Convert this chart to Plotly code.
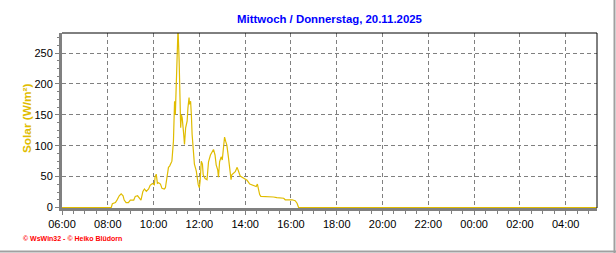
import plotly.graph_objects as go
import pandas as pd

# ---- data ----
day_times = ["06:00", "08:09", "08:12", "08:20", "08:24", "08:30", "08:35", "08:40", "08:43", "08:48",
             "08:54", "08:59", "09:08", "09:12", "09:18", "09:23", "09:27", "09:32", "09:36", "09:41",
             "09:47", "09:51", "09:57", "10:02", "10:04", "10:07", "10:10", "10:13", "10:18", "10:22",
             "10:28", "10:31", "10:35", "10:39", "10:42", "10:44", "10:48", "10:52", "10:55", "10:57",
             "10:59", "11:01", "11:04", "11:07", "11:08", "11:11", "11:13", "11:15", "11:19", "11:21",
             "11:24", "11:28", "11:30", "11:33", "11:34", "11:37", "11:39", "11:41", "11:45", "11:47",
             "11:52", "11:54", "11:57", "12:00", "12:02", "12:05", "12:08", "12:10", "12:13", "12:15",
             "12:20", "12:24", "12:29", "12:33", "12:37", "12:41", "12:44", "12:48", "12:50", "12:53",
             "12:57", "13:00", "13:03", "13:06", "13:09", "13:12", "13:16", "13:19", "13:23", "13:25",
             "13:30", "13:34", "13:39", "13:43", "13:47", "13:52", "13:58", "14:05", "14:12", "14:18",
             "14:24", "14:29", "14:32", "14:35", "14:38", "14:41", "14:48", "15:01", "15:08", "15:14",
             "15:23", "15:41", "15:45", "16:03", "16:11", "16:16", "16:20"]
solar = [0, 0, 6, 8, 12, 19, 22, 19, 12, 8,
         8, 12, 12, 18, 19, 15, 12, 26, 30, 26,
         30, 36, 39, 37, 50, 54, 39, 40, 38, 31,
         30, 32, 47, 65, 67, 70, 75, 107, 172, 150,
         205, 242, 290, 237, 188, 129, 150, 145, 118, 102,
         129, 140, 161, 178, 167, 172, 150, 118, 86, 70,
         59, 48, 37, 32, 43, 75, 70, 53, 48, 47,
         45, 74, 85, 91, 94, 85, 69, 61, 49, 74,
         82, 77, 99, 114, 107, 101, 82, 66, 45, 53,
         56, 58, 65, 58, 51, 49, 47, 44, 38, 37,
         35, 34, 38, 28, 21, 18, 18, 17, 18, 17,
         16, 15, 12.5, 12.5, 11, 7, 0]
night_times = ["2025-11-20 05:22"]
night_solar = [0]

x_start = "2025-11-19 06:00"
x_end = "2025-11-20 05:22"
y_ticks = [0, 50, 100, 150, 200, 250]
title_text = "Mittwoch / Donnerstag, 20.11.2025"
y_title = "Solar (W/m²)"
credit = "© WsWin32 - © Heiko Blüdorn"

times = [pd.Timestamp("2025-11-19 " + t) for t in day_times] + [pd.Timestamp(t) for t in night_times]
values = solar + night_solar

GOLD = "#E0BC00"
GRID = "#808080"
FONT = "Liberation Sans, Arial, sans-serif"

fig = go.Figure()
fig.add_trace(go.Scatter(x=times, y=values, mode="lines",
                         line=dict(color=GOLD, width=1.2), hoverinfo="skip"))

L, R, T, B = 62, 19, 33, 45
W, H = 616, 253
pw, ph = W - L - R, H - T - B

fig.update_layout(
    width=W, height=H,
    margin=dict(l=L, r=R, t=T, b=B, pad=0),
    paper_bgcolor="white", plot_bgcolor="white",
    showlegend=False,
    font=dict(family=FONT, size=11, color="black"),
    title=dict(text="<b>" + title_text + "</b>", x=0.5, xanchor="center",
               xref="paper", y=1 - 19 / H, yref="container", yanchor="middle",
               font=dict(family=FONT, size=11.4, color="#0000FF")),
)

fig.update_xaxes(
    type="date", range=[x_start, x_end],
    tickformat="%H:%M", tick0=x_start, dtick=2 * 3600 * 1000,
    showgrid=True, gridcolor=GRID, griddash="4px,3px", gridwidth=1,
    showline=True, linecolor=GRID, linewidth=3,
    ticks="outside", ticklen=4, tickcolor=GRID, tickwidth=1,
    minor=dict(dtick=30 * 60 * 1000, tick0=x_start, ticks="outside", ticklen=3,
               tickcolor=GRID, showgrid=False),
    tickfont=dict(family=FONT, size=11, color="black"),
    layer="below traces", zeroline=False, fixedrange=True,
)
fig.update_yaxes(
    range=[-0.8, 282.4], tickvals=y_ticks,
    showgrid=True, gridcolor=GRID, griddash="4px,3px", gridwidth=1,
    showline=True, linecolor=GRID, linewidth=3,
    ticks="outside", ticklen=4, tickcolor=GRID, tickwidth=1,
    minor=dict(dtick=12.5, ticks="outside", ticklen=2, tickcolor=GRID, showgrid=False),
    tickfont=dict(family=FONT, size=11, color="black"),
    layer="below traces", zeroline=False, fixedrange=True,
)

# top and right black frame of plot area
fig.add_shape(type="line", xref="paper", yref="paper", x0=0, x1=1, y0=1, y1=1,
              line=dict(color="black", width=1))
fig.add_shape(type="line", xref="paper", yref="paper", x0=1, x1=1, y0=0, y1=1,
              line=dict(color="black", width=1))
# outer gray panel edges (right, bottom)
fig.add_shape(type="line", xref="paper", yref="paper",
              x0=(W - 1.5 - L) / pw, x1=(W - 1.5 - L) / pw, y0=(H - T) / ph, y1=-(B - 0) / ph,
              line=dict(color="#A0A0A0", width=2))
fig.add_shape(type="line", xref="paper", yref="paper",
              x0=-L / pw, x1=(W - L) / pw, y0=-(B - 1.5) / ph, y1=-(B - 1.5) / ph,
              line=dict(color="#A0A0A0", width=2))

# y-axis title
fig.add_annotation(text="<b>" + y_title + "</b>", textangle=-90, showarrow=False,
                   xref="paper", yref="paper", x=(27 - L) / pw, y=(H - B - 118) / ph,
                   xanchor="center", yanchor="middle",
                   font=dict(family=FONT, size=11.8, color=GOLD))
# credit
fig.add_annotation(text="<b>" + credit + "</b>", showarrow=False,
                   xref="paper", yref="paper", x=(21 - L) / pw, y=(H - B - 238) / ph,
                   xanchor="left", yanchor="middle",
                   font=dict(family=FONT, size=7, color="#FF0000"))

fig.write_html("out.html", config=dict(displayModeBar=False))
